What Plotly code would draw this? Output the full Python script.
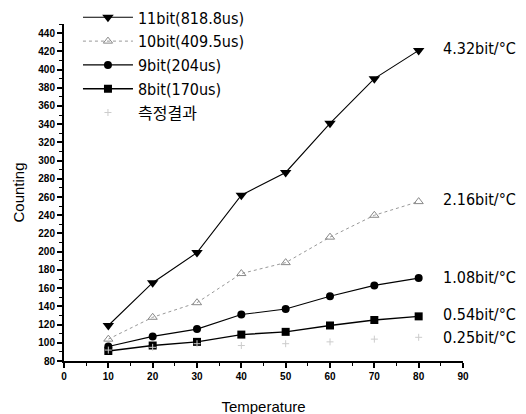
import plotly.graph_objects as go

temperature = [10, 20, 30, 40, 50, 60, 70, 80]
bit11 = [119, 166, 199, 262, 287, 341, 390, 421]
bit10 = [104, 128, 144, 176, 188, 216, 240, 255]
bit9 = [96, 107, 115, 131, 137, 151, 163, 171]
bit8 = [91, 97, 101, 109, 112, 119, 125, 129]
measured = [92, 95, 99, 97, 99, 101, 104, 106]

series_names = ["11bit(818.8us)", "10bit(409.5us)", "9bit(204us)", "8bit(170us)", "측정결과"]
slope_labels = ["4.32bit/°C", "2.16bit/°C", "1.08bit/°C", "0.54bit/°C", "0.25bit/°C"]
slope_label_values = [423, 257, 172, 131, 106]

narrow = "DejaVu Sans Condensed, Noto Sans CJK KR, Liberation Sans, Arial"

fig = go.Figure()
fig.add_trace(go.Scatter(x=temperature, y=bit11, name=series_names[0], mode="lines+markers",
                         line=dict(color="black", width=1.1),
                         marker=dict(symbol="triangle-down", size=10, color="black")))
fig.add_trace(go.Scatter(x=temperature, y=bit10, name=series_names[1], mode="lines+markers",
                         line=dict(color="#999999", width=1, dash="dot"),
                         marker=dict(symbol="triangle-up-open", size=8, color="#888888")))
fig.add_trace(go.Scatter(x=temperature, y=bit9, name=series_names[2], mode="lines+markers",
                         line=dict(color="black", width=1.1),
                         marker=dict(symbol="circle", size=8, color="black")))
fig.add_trace(go.Scatter(x=temperature, y=bit8, name=series_names[3], mode="lines+markers",
                         line=dict(color="black", width=1.4),
                         marker=dict(symbol="square", size=8, color="black")))
fig.add_trace(go.Scatter(x=temperature, y=measured, name=series_names[4], mode="markers",
                         marker=dict(symbol="cross-thin-open", size=5, color="#cccccc",
                                     line=dict(color="#cccccc", width=1))))

for lab, v in zip(slope_labels, slope_label_values):
    fig.add_annotation(x=85, y=v, text=lab, showarrow=False, xanchor="left", yanchor="middle",
                       font=dict(family=narrow, size=16, color="black"))

fig.update_layout(
    width=526, height=414,
    margin=dict(l=56, r=71, t=16, b=61, autoexpand=False),
    paper_bgcolor="white", plot_bgcolor="white",
    showlegend=True,
    legend=dict(x=0.035, y=1.07, xanchor="left", yanchor="top", bgcolor="rgba(0,0,0,0)",
                font=dict(family=narrow, size=16, color="black"),
                tracegroupgap=0, itemwidth=50),
    xaxis=dict(range=[0, 90], tickmode="linear", tick0=0, dtick=10, automargin=False,
               showline=True, linecolor="black", linewidth=2, mirror=False,
               ticks="outside", ticklen=5, tickwidth=2, tickcolor="black",
               minor=dict(ticks="outside", ticklen=3, tickwidth=1, tickcolor="black", dtick=5),
               showgrid=False, zeroline=False,
               tickfont=dict(family="Liberation Sans, Arial", size=10, color="black", weight="bold"),
               title=dict(text="Temperature", font=dict(family="Liberation Sans, Arial", size=15, color="black"), standoff=20)),
    yaxis=dict(range=[80, 450], tickmode="linear", tick0=80, dtick=20, automargin=False,
               showline=True, linecolor="black", linewidth=2,
               ticks="outside", ticklen=5, tickwidth=2, tickcolor="black",
               minor=dict(ticks="outside", ticklen=3, tickwidth=1, tickcolor="black", dtick=10),
               showgrid=False, zeroline=False,
               tickfont=dict(family="Liberation Sans, Arial", size=10, color="black", weight="bold"),
               title=dict(text="Counting", font=dict(family="Liberation Sans, Arial", size=15, color="black"), standoff=10)),
)

fig.write_html("out.html")
